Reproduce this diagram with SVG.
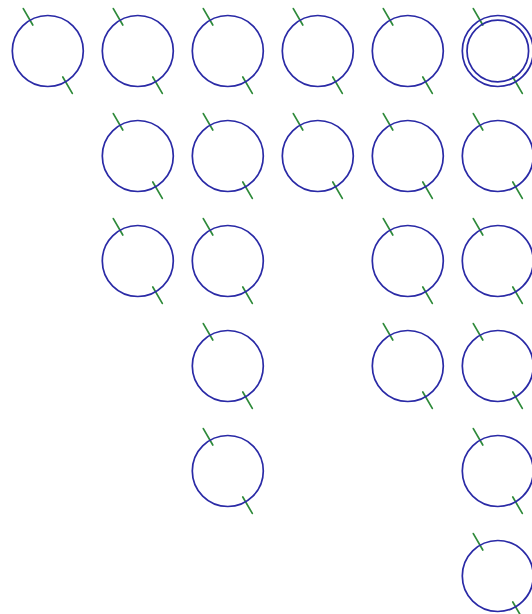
<svg xmlns="http://www.w3.org/2000/svg" xmlns:xlink="http://www.w3.org/1999/xlink" width="532" height="614" viewBox="0 0 532 614">
<style>
.c{fill:none;stroke:#2a2aa6;stroke-width:1.7}
.t{stroke:#2e8a3a;stroke-width:1.7;stroke-linecap:round}
</style>
<defs>
<g id="st">
<line class="t" x1="-15" y1="-26" x2="-24.5" y2="-42.4"/>
<line class="t" x1="15" y1="26" x2="24.5" y2="42.4"/>
<circle class="c" r="35.5"/>
</g>
</defs>
<rect width="532" height="614" fill="#ffffff"/>
<g id="connectors"></g>
<g id="n1_1" transform="translate(47.8,51)"><use xlink:href="#st"/></g>
<g id="n1_2" transform="translate(137.8,51)"><use xlink:href="#st"/></g>
<g id="n1_3" transform="translate(227.8,51)"><use xlink:href="#st"/></g>
<g id="n1_4" transform="translate(317.8,51)"><use xlink:href="#st"/></g>
<g id="n1_5" transform="translate(407.8,51)"><use xlink:href="#st"/></g>
<g id="n1_6" transform="translate(497.8,51)"><use xlink:href="#st"/><circle class="c" r="30.8"/></g>
<g id="n2_2" transform="translate(137.8,156)"><use xlink:href="#st"/></g>
<g id="n2_3" transform="translate(227.8,156)"><use xlink:href="#st"/></g>
<g id="n2_4" transform="translate(317.8,156)"><use xlink:href="#st"/></g>
<g id="n2_5" transform="translate(407.8,156)"><use xlink:href="#st"/></g>
<g id="n2_6" transform="translate(497.8,156)"><use xlink:href="#st"/></g>
<g id="n3_2" transform="translate(137.8,261)"><use xlink:href="#st"/></g>
<g id="n3_3" transform="translate(227.8,261)"><use xlink:href="#st"/></g>
<g id="n3_5" transform="translate(407.8,261)"><use xlink:href="#st"/></g>
<g id="n3_6" transform="translate(497.8,261)"><use xlink:href="#st"/></g>
<g id="n4_3" transform="translate(227.8,366)"><use xlink:href="#st"/></g>
<g id="n4_5" transform="translate(407.8,366)"><use xlink:href="#st"/></g>
<g id="n4_6" transform="translate(497.8,366)"><use xlink:href="#st"/></g>
<g id="n5_3" transform="translate(227.8,471)"><use xlink:href="#st"/></g>
<g id="n5_6" transform="translate(497.8,471)"><use xlink:href="#st"/></g>
<g id="n6_6" transform="translate(497.8,576)"><use xlink:href="#st"/></g>
</svg>
